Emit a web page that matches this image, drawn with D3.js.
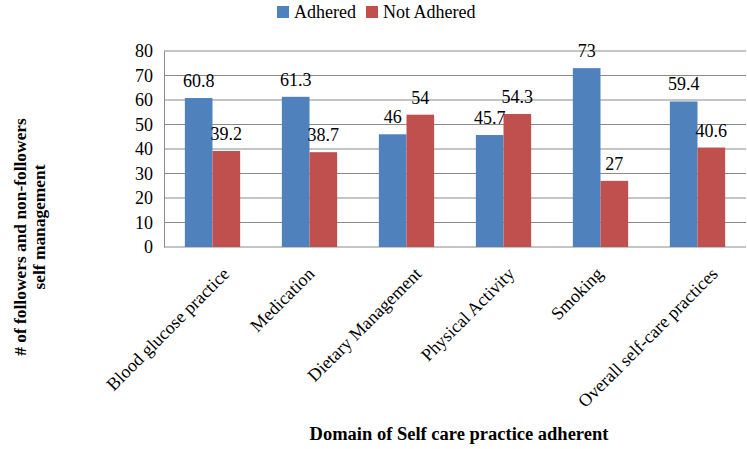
<!DOCTYPE html>
<html>
<head>
<meta charset="utf-8">
<script src="https://cdn.jsdelivr.net/npm/d3@7"></script>
<style>
  body { margin: 0; background: #fff; }
  text { font-family: "Liberation Serif", "Times New Roman", serif; }
</style>
</head>
<body>
<svg></svg>
<script>
var categories = ['Blood glucose practice', 'Medication', 'Dietary Management',
  'Physical Activity', 'Smoking', 'Overall self-care practices'];
var adhered = [60.8, 61.3, 46, 45.7, 73, 59.4];
var notAdhered = [39.2, 38.7, 54, 54.3, 27, 40.6];
var seriesNames = ['Adhered', 'Not Adhered'];
var colors = ['#4F81BD', '#C0504D'];
var yTicks = [0, 10, 20, 30, 40, 50, 60, 70, 80];

var width = 747,
  height = 449,
  margin = {top: 51, right: 1, bottom: 202, left: 164};

var svg = d3.select('svg')
  .attr('width', width)
  .attr('height', height);

var x = d3.scaleBand()
  .domain(categories)
  .range([margin.left, width - margin.right])
  .paddingInner(0).paddingOuter(0);

var y = d3.scaleLinear()
  .domain([0, 80])
  .range([height - margin.bottom, margin.top]);

var barW = x.bandwidth() * 0.285;

// gridlines
svg.append('g')
  .selectAll('line').data(yTicks)
  .join('line')
  .attr('x1', margin.left).attr('x2', width - margin.right)
  .attr('y1', d => y(d)).attr('y2', d => y(d))
  .attr('stroke', '#8a8a8a').attr('stroke-width', 1);

// y axis
var yAxis = svg.append('g')
  .attr('transform', 'translate(' + margin.left + ',0)')
  .call(d3.axisLeft(y).tickValues(yTicks).tickSize(0).tickPadding(11));
yAxis.select('.domain').attr('stroke', '#8a8a8a');
yAxis.selectAll('text')
  .attr('font-size', 18).attr('fill', '#000');

// bars
var data = categories.map((c, i) => ({cat: c, vals: [adhered[i], notAdhered[i]]}));

var groups = svg.selectAll('.cat').data(data)
  .join('g').attr('class', 'cat')
  .attr('transform', d => 'translate(' + (x(d.cat) + x.bandwidth() / 2) + ',0)');

groups.selectAll('rect')
  .data(d => d.vals)
  .join('rect')
  .attr('x', (d, i) => i === 0 ? -barW : 0)
  .attr('y', d => y(d))
  .attr('width', barW)
  .attr('height', d => y(0) - y(d))
  .attr('fill', (d, i) => colors[i]);

groups.selectAll('.val')
  .data(d => d.vals)
  .join('text')
  .attr('class', 'val')
  .attr('x', (d, i) => i === 0 ? -barW / 2 : barW / 2)
  .attr('y', d => y(d) - 11)
  .attr('text-anchor', 'middle')
  .attr('font-size', 18)
  .text(d => d);

// category labels (longer labels sit a little further right, like the original)
var catLabels = svg.append('g').selectAll('text').data(categories)
  .join('text')
  .attr('text-anchor', 'end')
  .attr('font-size', 18)
  .text(d => d);
catLabels.attr('transform', function(d) {
  var w = this.getComputedTextLength();
  var off = 4 + 0.143 * (w - 57) - 1.5;
  return 'translate(' + (x(d) + x.bandwidth() / 2 + off) + ',' + (y(0) + 28) + ') rotate(-45)';
});

// axis titles
svg.append('text')
  .attr('x', 459).attr('y', 440)
  .attr('text-anchor', 'middle')
  .attr('font-size', 18.5).attr('font-weight', 'bold')
  .text('Domain of Self care practice adherent');

svg.append('text')
  .attr('transform', 'translate(26,237) rotate(-90)')
  .attr('text-anchor', 'middle')
  .attr('font-size', 17.4).attr('font-weight', 'bold')
  .text('# of followers and non-followers');
svg.append('text')
  .attr('transform', 'translate(45,227) rotate(-90)')
  .attr('text-anchor', 'middle')
  .attr('font-size', 17.4).attr('font-weight', 'bold')
  .text('self management');

// legend
var legend = svg.append('g').attr('transform', 'translate(277,6)');
var li = legend.selectAll('g').data(seriesNames)
  .join('g')
  .attr('transform', (d, i) => 'translate(' + (i === 0 ? 0 : 89) + ',0)');
li.append('rect').attr('width', 12).attr('height', 12)
  .attr('fill', (d, i) => colors[i]);
li.append('text').attr('x', 17).attr('y', 12)
  .attr('font-size', 18)
  .text(d => d);
</script>
</body>
</html>
